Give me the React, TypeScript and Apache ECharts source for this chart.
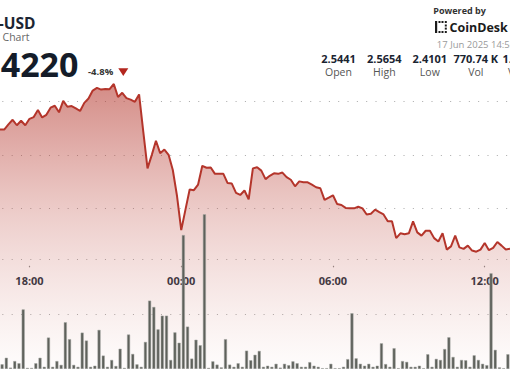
import React, { useEffect, useRef } from "react";
import * as echarts from "echarts";

// 10-minute price points from 16:50 (16 Jun) to 13:00 (17 Jun)
const START_MIN = 16 * 60 + 50;
const STEP_MIN = 10;
const PRICE: number[] = [
  2.5236, 2.5236, 2.5284, 2.5327, 2.5276, 2.5318, 2.5276, 2.5336, 2.5352, 2.5418,
  2.5349, 2.5373, 2.544, 2.5458, 2.5397, 2.5504, 2.5449, 2.5455, 2.5434, 2.5409,
  2.5485, 2.5525, 2.56, 2.5625, 2.5609, 2.5615, 2.5613, 2.5661, 2.554, 2.5579,
  2.5529, 2.5515, 2.5495, 2.5564, 2.5215, 2.4873, 2.4997, 2.5131, 2.5015, 2.5049,
  2.5, 2.4858, 2.4615, 2.4297, 2.4488, 2.4676, 2.467, 2.4722, 2.4897, 2.4879,
  2.4882, 2.4822, 2.4822, 2.4822, 2.4736, 2.4731, 2.4645, 2.4625, 2.4667, 2.4585,
  2.4873, 2.4884, 2.4852, 2.4773, 2.4804, 2.4827, 2.4822, 2.4834, 2.4791, 2.4767,
  2.4706, 2.4752, 2.4743, 2.4743, 2.4722, 2.4697, 2.4688, 2.4579, 2.46, 2.4622,
  2.454, 2.4531, 2.4504, 2.45, 2.45, 2.4515, 2.45, 2.4443, 2.4449, 2.4488,
  2.4464, 2.4443, 2.4379, 2.4379, 2.4222, 2.4267, 2.4258, 2.4267, 2.4379, 2.4276,
  2.4245, 2.4291, 2.4291, 2.4222, 2.4191, 2.4267, 2.4115, 2.4145, 2.4245, 2.4136,
  2.4122, 2.4152, 2.4106, 2.4095, 2.4115, 2.4176, 2.4109, 2.4131, 2.4186, 2.4152,
  2.4115, 2.4122,
];
// volume per 10-minute interval, thousands
const VOLUME_K: number[] = [
  1.7, 4.1, 0.5, 2.9, 2.1, 21.8, 0.4, 0.4, 2.1, 4.1,
  0.8, 11.5, 0.8, 2.9, 1.5, 17.1, 10.9, 1.5, 0.8, 13.3,
  10.4, 0.8, 1.2, 14.3, 4.9, 0.8, 3.3, 1.1, 7.4, 0.4,
  12.6, 5.5, 1.7, 0.8, 9.9, 25.0, 22.7, 14.5, 19.5, 19.5,
  3.3, 13.4, 9.6, 49.0, 15.5, 3.8, 10.7, 8.7, 56.6, 0.4,
  2.8, 1.6, 0.6, 10.9, 1.6, 0.8, 2.1, 0.8, 6.7, 3.2,
  5.2, 6.6, 0.8, 1.2, 0.8, 1.9, 0.5, 1.9, 1.4, 2.8,
  2.1, 0.8, 0.8, 2.5, 1.2, 0.8, 0.3, 0.3, 1.9, 0.3,
  0.3, 0.8, 3.6, 20.4, 3.9, 1.9, 1.2, 1.9, 0.8, 1.2,
  9.4, 1.8, 0.8, 7.6, 0.3, 2.9, 2.6, 0.8, 0.8, 1.2,
  0.3, 5.4, 0.8, 3.7, 3.3, 7.3, 11.6, 4.4, 0.8, 3.3,
  3.2, 0.8, 5.0, 3.3, 1.9, 1.4, 35.0, 7.0, 0.6, 0.3,
  5.4,
];
const TICK_LABELS = ["18:00", "00:00", "06:00", "12:00"];
const STAT_VALUES = ["2.5441", "2.5654", "2.4101", "770.74 K", "1.87 M"];
const STAT_LABELS = ["Open", "High", "Low", "Vol", "Vol $"];
const PAIR = "XRP-USD";
const SUBTITLE = "24 Hour Chart";
const LAST_PRICE = "2.4220";
const CHANGE = "-4.8%";
const DATE_TEXT = "17 Jun 2025 14:55";

const fmt = (m: number) => {
  const t = ((m % 1440) + 1440) % 1440;
  return `${String(Math.floor(t / 60)).padStart(2, "0")}:${String(t % 60).padStart(2, "0")}`;
};
const TIMES: string[] = PRICE.map((_, i) => fmt(START_MIN + i * STEP_MIN));
const BAR_TIMES: string[] = VOLUME_K.map((_, i) => fmt(START_MIN + i * STEP_MIN));

const FONT = "'Open Sans', 'Noto Sans', sans-serif";

export default function App() {
  const ref = useRef<HTMLDivElement>(null);
  useEffect(() => {
    if (!ref.current) return;
    const chart = echarts.init(ref.current, undefined, { renderer: "svg" });
    const showTick = (_: number, v: string) => TICK_LABELS.includes(v);
    const dot = "#a9a9a9";
    const statX = [338.5, 384.3, 429.8, 475.8, 520];
    const graphic: any[] = [
      { type: "text", x: 35.5, y: 23.3, style: { text: PAIR, align: "right", verticalAlign: "middle", font: `bold 15.5px ${FONT}`, fill: "#1c2532" } },
      { type: "text", x: 29.5, y: 37, style: { text: SUBTITLE, align: "right", verticalAlign: "middle", font: `10.5px ${FONT}`, fill: "#666" } },
      { type: "text", x: 78.5, y: 63.5, style: { text: LAST_PRICE, align: "right", verticalAlign: "middle", font: `bold 34px ${FONT}`, fill: "#141c29" } },
      { type: "text", x: 88, y: 71.8, style: { text: CHANGE, align: "left", verticalAlign: "middle", font: `bold 9.5px ${FONT}`, fill: "#333" } },
      { type: "polygon", shape: { points: [[118.3, 68.3], [128.3, 68.3], [123.3, 76]] }, style: { fill: "#b3261e" } },
      { type: "text", x: 433.3, y: 10, style: { text: "Powered by", align: "left", verticalAlign: "middle", font: `bold 9px ${FONT}`, fill: "#333" } },
      { type: "text", x: 449.5, y: 27, style: { text: "CoinDesk", align: "left", verticalAlign: "middle", font: `bold 12.5px ${FONT}`, fill: "#1b1b1b" } },
      { type: "rect", shape: { x: 435, y: 21, width: 2.2, height: 12 }, style: { fill: "#1b1b1b" } },
      ...[438.5, 441.5, 444.8].flatMap((x) => [
        { type: "rect", shape: { x, y: 21, width: 2, height: 2 }, style: { fill: "#1b1b1b" } },
        { type: "rect", shape: { x, y: 31, width: 2, height: 2 }, style: { fill: "#1b1b1b" } },
      ]),
      { type: "rect", shape: { x: 444.8, y: 24.5, width: 2, height: 2 }, style: { fill: "#1b1b1b" } },
      { type: "rect", shape: { x: 444.8, y: 27.6, width: 2, height: 2 }, style: { fill: "#1b1b1b" } },
      { type: "text", x: 436.8, y: 44, style: { text: DATE_TEXT, align: "left", verticalAlign: "middle", font: `9.5px ${FONT}`, fill: "#9a9a9a" } },
      ...STAT_VALUES.map((t, i) => ({ type: "text", x: statX[i], y: 58.2, style: { text: t, align: "center", verticalAlign: "middle", font: `bold 11px ${FONT}`, fill: "#1a2431" } })),
      ...STAT_LABELS.map((t, i) => ({ type: "text", x: statX[i], y: 71.5, style: { text: t, align: "center", verticalAlign: "middle", font: `10.5px ${FONT}`, fill: "#555" } })),
    ];
    chart.setOption({
      animation: false,
      backgroundColor: "#fff",
      grid: [
        { left: 0, right: 0, top: 47.7, bottom: -8.7 },
        { left: 0, right: 0, top: 205, bottom: 0 },
      ],
      xAxis: [
        {
          type: "category", gridIndex: 0, data: TIMES, boundaryGap: false, position: "bottom", offset: -103.2,
          axisLine: { show: false },
          axisTick: { show: true, interval: showTick, length: 1.5, lineStyle: { color: "#8a8a8a", width: 1.2 } },
          axisLabel: { interval: showTick, margin: 9, fontSize: 11, fontWeight: "bold", color: "#27303c", fontFamily: FONT },
          splitLine: { show: false },
        },
        { type: "category", gridIndex: 1, data: BAR_TIMES, boundaryGap: true, show: false },
      ],
      yAxis: [
        {
          type: "value", gridIndex: 0, min: 2.3, max: 2.6, interval: 0.05,
          axisLine: { show: false }, axisTick: { show: false }, axisLabel: { show: false },
          splitLine: {
            show: true,
            lineStyle: { color: ["transparent", "transparent", "transparent", dot, dot, dot, "transparent"], type: [1, 8.33], dashOffset: 7, width: 1 },
          },
        },
        {
          type: "value", gridIndex: 1, min: 0, max: 60, interval: 20,
          axisLine: { show: false }, axisTick: { show: false }, axisLabel: { show: false },
          splitLine: {
            show: true,
            lineStyle: { color: ["transparent", dot, dot, "transparent"], type: [1, 8.33], dashOffset: 7, width: 1 },
          },
        },
      ],
      series: [
        {
          type: "line", xAxisIndex: 0, yAxisIndex: 0, data: PRICE, symbol: "none", smooth: false,
          lineStyle: { color: "#b4352b", width: 2 },
          areaStyle: {
            color: new echarts.graphic.LinearGradient(0, 0, 0, 1, [
              { offset: 0, color: "rgba(180,55,45,0.82)" },
              { offset: 0.45, color: "rgba(190,75,65,0.4)" },
              { offset: 1, color: "rgba(210,130,120,0.03)" },
            ]),
          },
          z: 2,
        },
        {
          type: "bar", xAxisIndex: 1, yAxisIndex: 1, data: VOLUME_K, barWidth: 3,
          itemStyle: { color: "#5e615b", borderColor: "#a3a5a1", borderWidth: 0.5 },
          z: 3,
        },
      ],
      graphic,
    });
    return () => chart.dispose();
  }, []);
  return <div ref={ref} style={{ position: "absolute", left: 0, top: 0, width: 510, height: 369 }} />;
}
